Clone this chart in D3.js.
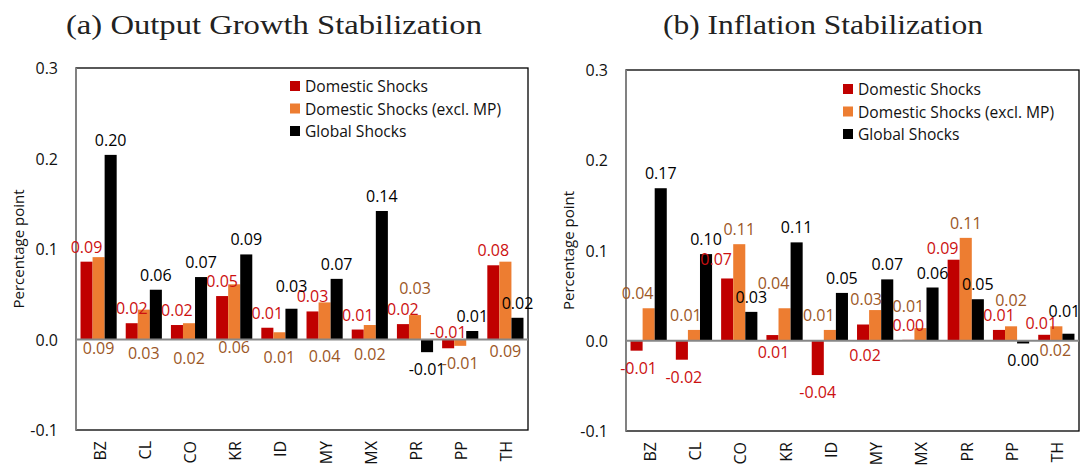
<!DOCTYPE html>
<html>
<head>
<meta charset="utf-8">
<script src="https://cdn.jsdelivr.net/npm/d3@7"></script>
<style>
  body { margin: 0; background: #fff; }
  svg text { font-family: "Open Sans", sans-serif; }
</style>
</head>
<body>
<svg id="chart" width="1082" height="466"></svg>
<script>
// categories (countries) and series
var countries = ["BZ", "CL", "CO", "KR", "ID", "MY", "MX", "PR", "PP", "TH"];
var seriesNames = ["Domestic Shocks", "Domestic Shocks (excl. MP)", "Global Shocks"];
var yTicks = [-0.1, 0.0, 0.1, 0.2, 0.3];

// (a) output growth stabilization
var outputDomestic  = [0.086, 0.018, 0.016, 0.048, 0.013, 0.031, 0.011, 0.017, -0.0097, 0.082];
var outputExclMP    = [0.091, 0.033, 0.018, 0.061, 0.008, 0.041, 0.016, 0.027, -0.007, 0.086];
var outputGlobal    = [0.204, 0.055, 0.069, 0.094, 0.034, 0.067, 0.142, -0.014, 0.0094, 0.024];

// (b) inflation stabilization
var inflationDomestic = [-0.011, -0.021, 0.069, 0.0063, -0.038, 0.018, 0.001, 0.0898, 0.012, 0.0066];
var inflationExclMP   = [0.036, 0.012, 0.107, 0.036, 0.012, 0.034, 0.014, 0.114, 0.016, 0.016];
var inflationGlobal   = [0.169, 0.096, 0.032, 0.109, 0.053, 0.068, 0.059, 0.046, -0.003, 0.0078];

var barColors = ["#C00000", "#ED7D31", "#000000"];
var labelColors = ["#CC1010", "#9C5726", "#000000"];

var svg = d3.select("#chart");

// plain hyphen minus like the original
var locale = d3.formatLocale({ decimal: ".", thousands: ",", grouping: [3], currency: ["", ""], minus: "-" });

// label placement tweaks (the original had hand dragged labels)
// zero: label sits below zero line by dy; nudge: shift from default outside-end spot
var panels = [
    {
        title: "(a) Output Growth Stabilization",
        titleX: 66, titleLen: 416,
        left: 76, right: 528, top: 68, bottom: 430,
        series: [outputDomestic, outputExclMP, outputGlobal],
        legendX: 290, legendY: 86,
        zero: { "BZ:1": [0, 8.5], "CL:1": [0, 13.5], "CO:1": [0, 18.5], "KR:1": [0, 7.5],
                "ID:1": [0, 17], "MY:1": [0, 16], "MX:1": [0, 14.5], "TH:1": [0, 11.5] },
        nudge: { "PR:1": [0, -12], "ID:2": [0, -8], "PP:0": [0, -33] }
    },
    {
        title: "(b) Inflation Stabilization",
        titleX: 663, titleLen: 320,
        left: 626, right: 1079, top: 70, bottom: 431,
        series: [inflationDomestic, inflationExclMP, inflationGlobal],
        legendX: 843, legendY: 89,
        zero: { "KR:0": [1, 11], "MY:0": [2, 14], "TH:1": [-1, 9] },
        nudge: { "BZ:1": [-11, 0], "BZ:0": [2, 0], "CL:0": [2, 0], "CL:1": [-8, 0],
                 "CO:0": [-11, -4], "KR:1": [-11, -10], "ID:1": [-11, 0], "MY:1": [-9, 4],
                 "MX:1": [-12, -7], "PR:0": [-11, 3], "PP:1": [0, -11], "TH:0": [-3, 3],
                 "TH:2": [-4, -8] }
    }
];

var fmt = locale.format(".2f");
function labelText(v) {
    var s = fmt(v);
    return s === "-0.00" ? "0.00" : s;
}

panels.forEach(function(p) {
    var g = svg.append("g");

    var x = d3.scaleBand()
        .domain(countries)
        .range([p.left, p.right])
        .paddingInner(0.2)
        .paddingOuter(0.1);

    var xs = d3.scaleBand()
        .domain(d3.range(seriesNames.length))
        .range([0, x.bandwidth()]);

    var y = d3.scaleLinear()
        .domain([-0.1, 0.3])
        .range([p.bottom, p.top]);

    // title
    g.append("text")
        .attr("x", p.titleX)
        .attr("y", 34)
        .attr("textLength", p.titleLen)
        .attr("lengthAdjust", "spacingAndGlyphs")
        .style("font-family", "'Liberation Serif', 'DejaVu Serif', serif")
        .style("font-size", "27px")
        .style("fill", "#222")
        .text(p.title);

    // plot frame
    g.append("rect")
        .attr("x", p.left)
        .attr("y", p.top)
        .attr("width", p.right - p.left)
        .attr("height", p.bottom - p.top)
        .style("fill", "none")
        .style("stroke", "#000")
        .style("stroke-width", 1.3);

    // y axis tick labels
    g.selectAll(".ytick")
        .data(yTicks)
      .enter().append("text")
        .attr("class", "ytick")
        .attr("x", p.left - 18)
        .attr("y", function(d) { return y(d); })
        .attr("text-anchor", "end")
        .attr("dominant-baseline", "central")
        .style("font-size", "16px")
        .style("fill", "#111")
        .text(locale.format(".1f"));

    // y axis title
    g.append("text")
        .attr("transform", "translate(" + (p.left - 58) + "," + ((p.top + p.bottom) / 2) + ") rotate(-90)")
        .attr("text-anchor", "middle")
        .attr("dominant-baseline", "central")
        .style("font-size", "15px")
        .style("fill", "#111")
        .text("Percentage point");

    // x category labels
    g.selectAll(".xtick")
        .data(countries)
      .enter().append("text")
        .attr("class", "xtick")
        .attr("transform", function(d) {
            return "translate(" + (x(d) + x.bandwidth() / 2 + 1) + "," + (p.bottom + 11) + ") rotate(-90)";
        })
        .attr("text-anchor", "end")
        .attr("dominant-baseline", "central")
        .style("font-size", "16px")
        .style("fill", "#111")
        .text(function(d) { return d; });

    // bars
    var rows = [];
    p.series.forEach(function(vals, si) {
        vals.forEach(function(v, ci) {
            rows.push({ cat: countries[ci], s: si, v: v });
        });
    });

    g.selectAll(".bar")
        .data(rows)
      .enter().append("rect")
        .attr("class", "bar")
        .attr("x", function(d) { return x(d.cat) + xs(d.s); })
        .attr("y", function(d) { return y(Math.max(0, d.v)); })
        .attr("width", xs.bandwidth())
        .attr("height", function(d) { return Math.abs(y(d.v) - y(0)); })
        .style("fill", function(d) { return barColors[d.s]; });

    // gray axes: left and zero line
    g.append("line")
        .attr("x1", p.left).attr("x2", p.left)
        .attr("y1", p.top).attr("y2", p.bottom)
        .style("stroke", "#878787")
        .style("stroke-width", 1.8);
    g.append("line")
        .attr("x1", p.left).attr("x2", p.right)
        .attr("y1", y(0)).attr("y2", y(0))
        .style("stroke", "#878787")
        .style("stroke-width", 1.8);

    // value labels
    g.selectAll(".vlab")
        .data(rows)
      .enter().append("text")
        .attr("class", "vlab")
        .attr("x", function(d) {
            var key = d.cat + ":" + d.s;
            var cx = x(d.cat) + xs(d.s) + xs.bandwidth() / 2;
            if (p.zero[key]) return cx + p.zero[key][0];
            if (p.nudge[key]) return cx + p.nudge[key][0];
            return cx;
        })
        .attr("y", function(d) {
            var key = d.cat + ":" + d.s;
            if (p.zero[key]) return y(0) + p.zero[key][1];
            var cy = d.v >= 0 ? y(d.v) - 15 : y(d.v) + 17;
            if (p.nudge[key]) cy += p.nudge[key][1];
            return cy;
        })
        .attr("text-anchor", "middle")
        .attr("dominant-baseline", "central")
        .style("font-size", "16px")
        .style("fill", function(d) { return labelColors[d.s]; })
        .text(function(d) { return labelText(d.v); });

    // legend
    var leg = g.selectAll(".leg")
        .data(seriesNames)
      .enter().append("g")
        .attr("class", "leg")
        .attr("transform", function(d, i) { return "translate(" + p.legendX + "," + (p.legendY + i * 22.5) + ")"; });
    leg.append("rect")
        .attr("x", 0)
        .attr("y", -5)
        .attr("width", 10)
        .attr("height", 10)
        .style("fill", function(d, i) { return barColors[i]; });
    leg.append("text")
        .attr("x", 15)
        .attr("y", 0)
        .attr("dominant-baseline", "central")
        .style("font-size", "15.6px")
        .style("fill", "#111")
        .text(function(d) { return d; });
});
</script>
</body>
</html>
